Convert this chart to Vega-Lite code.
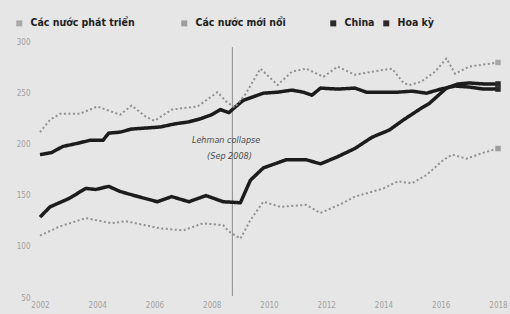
{
  "$schema": "https://vega.github.io/schema/vega-lite/v6.json",
  "width": 458,
  "height": 256,
  "autosize": "none",
  "padding": {"left": 40, "top": 42, "right": 12, "bottom": 16},
  "background": "#e6e6e6",
  "config": {
    "view": {"stroke": null},
    "font": "DejaVu Sans Condensed, Roboto, sans-serif",
    "legend": {
      "title": null, "orient": "none", "direction": "horizontal",
      "symbolType": "square", "symbolSize": 36, "symbolStrokeWidth": 0,
      "labelFontWeight": "bold", "labelFontSize": 10.5, "labelColor": "#1e1e1e",
      "labelOffset": 6, "legendY": -24
    }
  },
  "datasets": {
    "series": [
      {"series": "Hoa kỳ", "year": 2002.0, "value": 190},
      {"series": "Hoa kỳ", "year": 2002.4, "value": 192},
      {"series": "Hoa kỳ", "year": 2002.8, "value": 198},
      {"series": "Hoa kỳ", "year": 2003.3, "value": 201},
      {"series": "Hoa kỳ", "year": 2003.75, "value": 204},
      {"series": "Hoa kỳ", "year": 2004.2, "value": 204},
      {"series": "Hoa kỳ", "year": 2004.4, "value": 211},
      {"series": "Hoa kỳ", "year": 2004.8, "value": 212},
      {"series": "Hoa kỳ", "year": 2005.2, "value": 215},
      {"series": "Hoa kỳ", "year": 2005.7, "value": 216},
      {"series": "Hoa kỳ", "year": 2006.2, "value": 217},
      {"series": "Hoa kỳ", "year": 2006.7, "value": 220},
      {"series": "Hoa kỳ", "year": 2007.2, "value": 222},
      {"series": "Hoa kỳ", "year": 2007.6, "value": 225},
      {"series": "Hoa kỳ", "year": 2008.0, "value": 229},
      {"series": "Hoa kỳ", "year": 2008.3, "value": 234},
      {"series": "Hoa kỳ", "year": 2008.6, "value": 231},
      {"series": "Hoa kỳ", "year": 2008.8, "value": 236},
      {"series": "Hoa kỳ", "year": 2009.1, "value": 243},
      {"series": "Hoa kỳ", "year": 2009.5, "value": 247},
      {"series": "Hoa kỳ", "year": 2009.8, "value": 250},
      {"series": "Hoa kỳ", "year": 2010.3, "value": 251},
      {"series": "Hoa kỳ", "year": 2010.8, "value": 253},
      {"series": "Hoa kỳ", "year": 2011.2, "value": 251},
      {"series": "Hoa kỳ", "year": 2011.5, "value": 248},
      {"series": "Hoa kỳ", "year": 2011.8, "value": 255},
      {"series": "Hoa kỳ", "year": 2012.4, "value": 254},
      {"series": "Hoa kỳ", "year": 2013.0, "value": 255},
      {"series": "Hoa kỳ", "year": 2013.4, "value": 251},
      {"series": "Hoa kỳ", "year": 2014.0, "value": 251},
      {"series": "Hoa kỳ", "year": 2014.5, "value": 251},
      {"series": "Hoa kỳ", "year": 2015.0, "value": 252},
      {"series": "Hoa kỳ", "year": 2015.5, "value": 250},
      {"series": "Hoa kỳ", "year": 2016.0, "value": 254},
      {"series": "Hoa kỳ", "year": 2016.5, "value": 257},
      {"series": "Hoa kỳ", "year": 2017.0, "value": 256},
      {"series": "Hoa kỳ", "year": 2017.5, "value": 254},
      {"series": "Hoa kỳ", "year": 2018.0, "value": 254},
      {"series": "China", "year": 2002.0, "value": 129},
      {"series": "China", "year": 2002.35, "value": 139},
      {"series": "China", "year": 2003.0, "value": 147},
      {"series": "China", "year": 2003.6, "value": 157},
      {"series": "China", "year": 2003.95, "value": 156},
      {"series": "China", "year": 2004.4, "value": 159},
      {"series": "China", "year": 2004.8, "value": 154},
      {"series": "China", "year": 2005.3, "value": 150},
      {"series": "China", "year": 2006.1, "value": 144},
      {"series": "China", "year": 2006.6, "value": 149},
      {"series": "China", "year": 2007.2, "value": 144},
      {"series": "China", "year": 2007.8, "value": 150},
      {"series": "China", "year": 2008.4, "value": 144},
      {"series": "China", "year": 2009.0, "value": 143},
      {"series": "China", "year": 2009.35, "value": 165},
      {"series": "China", "year": 2009.8, "value": 177},
      {"series": "China", "year": 2010.6, "value": 185},
      {"series": "China", "year": 2011.3, "value": 185},
      {"series": "China", "year": 2011.8, "value": 181},
      {"series": "China", "year": 2012.4, "value": 188},
      {"series": "China", "year": 2013.0, "value": 196},
      {"series": "China", "year": 2013.6, "value": 207},
      {"series": "China", "year": 2014.2, "value": 214},
      {"series": "China", "year": 2014.7, "value": 224},
      {"series": "China", "year": 2015.3, "value": 235},
      {"series": "China", "year": 2015.6, "value": 240},
      {"series": "China", "year": 2016.2, "value": 255},
      {"series": "China", "year": 2016.6, "value": 259},
      {"series": "China", "year": 2017.0, "value": 260},
      {"series": "China", "year": 2017.5, "value": 259},
      {"series": "China", "year": 2018.0, "value": 259},
      {"series": "Các nước phát triển", "year": 2002.0, "value": 212},
      {"series": "Các nước phát triển", "year": 2002.35, "value": 224},
      {"series": "Các nước phát triển", "year": 2002.7, "value": 230},
      {"series": "Các nước phát triển", "year": 2003.4, "value": 230},
      {"series": "Các nước phát triển", "year": 2004.0, "value": 237},
      {"series": "Các nước phát triển", "year": 2004.8, "value": 229},
      {"series": "Các nước phát triển", "year": 2005.2, "value": 238},
      {"series": "Các nước phát triển", "year": 2005.7, "value": 227},
      {"series": "Các nước phát triển", "year": 2006.0, "value": 223},
      {"series": "Các nước phát triển", "year": 2006.6, "value": 234},
      {"series": "Các nước phát triển", "year": 2007.5, "value": 237},
      {"series": "Các nước phát triển", "year": 2008.2, "value": 251},
      {"series": "Các nước phát triển", "year": 2008.5, "value": 242},
      {"series": "Các nước phát triển", "year": 2008.8, "value": 236},
      {"series": "Các nước phát triển", "year": 2009.2, "value": 250},
      {"series": "Các nước phát triển", "year": 2009.7, "value": 274},
      {"series": "Các nước phát triển", "year": 2010.3, "value": 258},
      {"series": "Các nước phát triển", "year": 2010.8, "value": 271},
      {"series": "Các nước phát triển", "year": 2011.3, "value": 274},
      {"series": "Các nước phát triển", "year": 2011.9, "value": 266},
      {"series": "Các nước phát triển", "year": 2012.4, "value": 276},
      {"series": "Các nước phát triển", "year": 2013.0, "value": 268},
      {"series": "Các nước phát triển", "year": 2013.6, "value": 271},
      {"series": "Các nước phát triển", "year": 2014.3, "value": 274},
      {"series": "Các nước phát triển", "year": 2014.7, "value": 260},
      {"series": "Các nước phát triển", "year": 2014.9, "value": 258},
      {"series": "Các nước phát triển", "year": 2015.3, "value": 261},
      {"series": "Các nước phát triển", "year": 2015.8, "value": 271},
      {"series": "Các nước phát triển", "year": 2016.2, "value": 284},
      {"series": "Các nước phát triển", "year": 2016.5, "value": 269},
      {"series": "Các nước phát triển", "year": 2017.0, "value": 276},
      {"series": "Các nước phát triển", "year": 2017.5, "value": 278},
      {"series": "Các nước phát triển", "year": 2018.0, "value": 280},
      {"series": "Các nước mới nổi", "year": 2002.0, "value": 111},
      {"series": "Các nước mới nổi", "year": 2002.7, "value": 120},
      {"series": "Các nước mới nổi", "year": 2003.6, "value": 128},
      {"series": "Các nước mới nổi", "year": 2004.5, "value": 123},
      {"series": "Các nước mới nổi", "year": 2005.0, "value": 125},
      {"series": "Các nước mới nổi", "year": 2006.2, "value": 118},
      {"series": "Các nước mới nổi", "year": 2007.0, "value": 116},
      {"series": "Các nước mới nổi", "year": 2007.7, "value": 123},
      {"series": "Các nước mới nổi", "year": 2008.4, "value": 121},
      {"series": "Các nước mới nổi", "year": 2008.6, "value": 115},
      {"series": "Các nước mới nổi", "year": 2009.0, "value": 108},
      {"series": "Các nước mới nổi", "year": 2009.35, "value": 126},
      {"series": "Các nước mới nổi", "year": 2009.8, "value": 144},
      {"series": "Các nước mới nổi", "year": 2010.4, "value": 139},
      {"series": "Các nước mới nổi", "year": 2011.3, "value": 141},
      {"series": "Các nước mới nổi", "year": 2011.8, "value": 133},
      {"series": "Các nước mới nổi", "year": 2012.6, "value": 143},
      {"series": "Các nước mới nổi", "year": 2013.0, "value": 149},
      {"series": "Các nước mới nổi", "year": 2014.0, "value": 157},
      {"series": "Các nước mới nổi", "year": 2014.5, "value": 164},
      {"series": "Các nước mới nổi", "year": 2015.0, "value": 162},
      {"series": "Các nước mới nổi", "year": 2015.5, "value": 170},
      {"series": "Các nước mới nổi", "year": 2016.1, "value": 185},
      {"series": "Các nước mới nổi", "year": 2016.4, "value": 190},
      {"series": "Các nước mới nổi", "year": 2016.9, "value": 186},
      {"series": "Các nước mới nổi", "year": 2017.5, "value": 192},
      {"series": "Các nước mới nổi", "year": 2018.0, "value": 196}
    ],
    "event": [{"year": 2008.72, "top": 295, "bottom": 52}],
    "notes": [
      {"year": 2008.5, "value": 204, "label": "Lehman collapse"},
      {"year": 2008.62, "value": 188.5, "label": "(Sep 2008)"}
    ]
  },
  "layer": [
    {
      "data": {"name": "event"},
      "mark": {"type": "rule", "color": "#8a8a8a", "strokeWidth": 1},
      "encoding": {
        "x": {"field": "year", "type": "quantitative", "scale": {"domain": [2002, 2018]}},
        "y": {"field": "top", "type": "quantitative"},
        "y2": {"field": "bottom"}
      }
    },
    {
      "data": {"name": "series"},
      "mark": {"type": "line", "strokeCap": "butt", "strokeJoin": "round"},
      "encoding": {
        "x": {
          "field": "year", "type": "quantitative",
          "scale": {"domain": [2002, 2018], "nice": false, "zero": false},
          "axis": {
            "title": null, "values": [2002, 2004, 2006, 2008, 2010, 2012, 2014, 2016, 2018],
            "format": "d", "domain": false, "ticks": false, "grid": false,
            "labelColor": "#a0a0a0", "labelFontSize": 8, "labelPadding": 3, "labelFlush": false
          }
        },
        "y": {
          "field": "value", "type": "quantitative",
          "scale": {"domain": [50, 300], "nice": false, "zero": false},
          "axis": {
            "title": null, "values": [50, 100, 150, 200, 250, 300],
            "domain": false, "ticks": false, "grid": false,
            "labelColor": "#a0a0a0", "labelFontSize": 8, "labelPadding": 10
          }
        },
        "stroke": {
          "field": "series", "type": "nominal",
          "scale": {
            "domain": ["China", "Hoa kỳ", "Các nước phát triển", "Các nước mới nổi"],
            "range": ["#1c1c1c", "#1c1c1c", "#8f8f8f", "#8f8f8f"]
          },
          "legend": null
        },
        "strokeDash": {
          "field": "series", "type": "nominal",
          "scale": {
            "domain": ["Hoa kỳ", "China", "Các nước mới nổi", "Các nước phát triển"],
            "range": [[1, 0], [1, 0], [2, 2.5], [2, 2.5]]
          },
          "legend": null
        },
        "strokeWidth": {
          "field": "series", "type": "nominal",
          "scale": {
            "type": "ordinal",
            "domain": ["Các nước mới nổi", "Hoa kỳ", "China", "Các nước phát triển"],
            "range": [2, 3.5, 3.5, 2]
          },
          "legend": null
        }
      }
    },
    {
      "data": {"name": "series"},
      "transform": [{"filter": "datum.year == 2018 && (datum.series == 'Các nước phát triển' || datum.series == 'Các nước mới nổi')"}],
      "mark": {"type": "point", "shape": "square", "filled": true, "size": 30, "opacity": 1},
      "encoding": {
        "x": {"field": "year", "type": "quantitative"},
        "y": {"field": "value", "type": "quantitative"},
        "fill": {
          "field": "series", "type": "nominal",
          "scale": {
            "domain": ["Các nước phát triển", "Các nước mới nổi"],
            "range": ["#a8a8a8", "#9c9c9c"]
          },
          "legend": {"legendX": -26, "columnPadding": 44, "gridAlign": "each"}
        }
      }
    },
    {
      "data": {"name": "series"},
      "transform": [{"filter": "datum.year == 2018 && (datum.series == 'China' || datum.series == 'Hoa kỳ')"}],
      "mark": {"type": "point", "shape": "square", "filled": true, "size": 30, "opacity": 1},
      "encoding": {
        "x": {"field": "year", "type": "quantitative"},
        "y": {"field": "value", "type": "quantitative"},
        "color": {
          "field": "series", "type": "nominal",
          "scale": {
            "domain": ["China", "Hoa kỳ"],
            "range": ["#2a2a2a", "#2a2a2a"]
          },
          "legend": {"legendX": 288, "columnPadding": 6, "gridAlign": "each"}
        }
      }
    },
    {
      "data": {"name": "notes"},
      "mark": {"type": "text", "fontStyle": "italic", "fontSize": 9, "color": "#4a4a4a", "align": "center", "baseline": "middle"},
      "encoding": {
        "x": {"field": "year", "type": "quantitative"},
        "y": {"field": "value", "type": "quantitative"},
        "text": {"field": "label"}
      }
    }
  ]
}
